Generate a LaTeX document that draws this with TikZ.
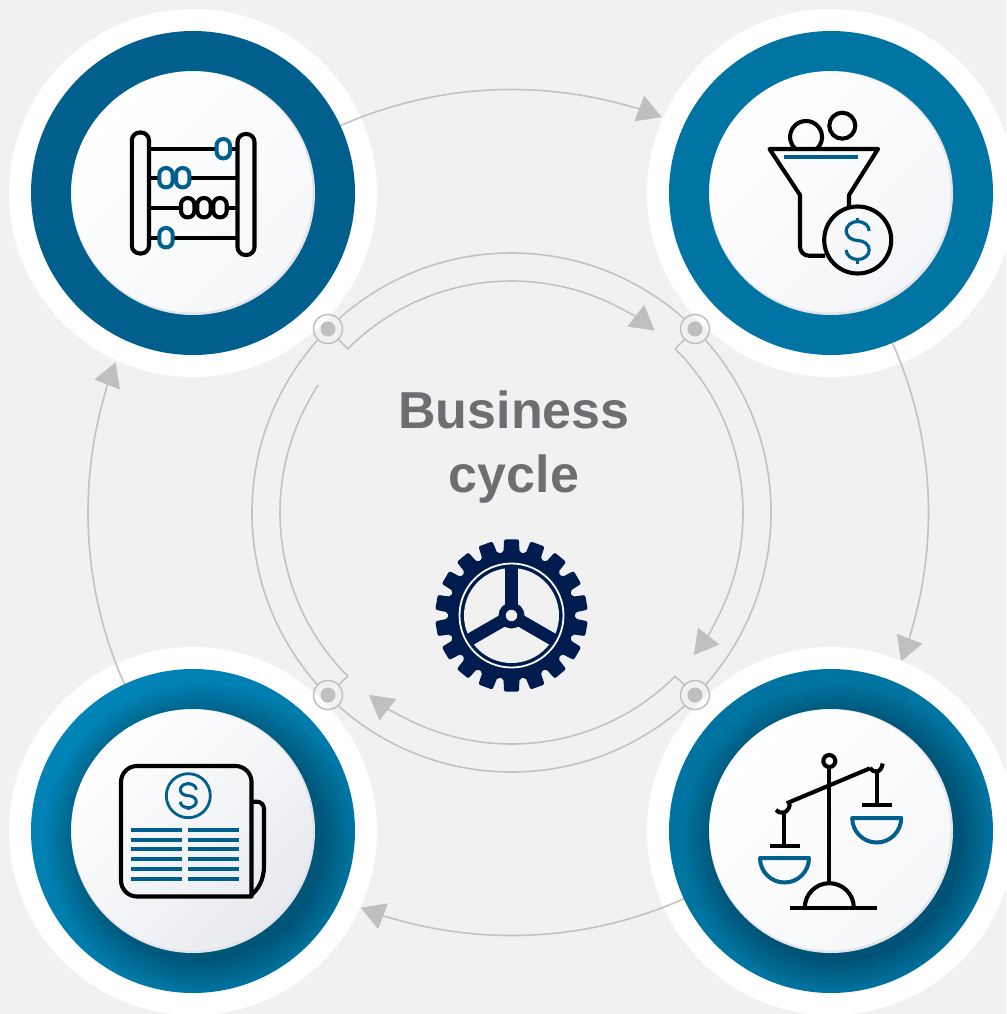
\documentclass[tikz,border=0pt]{standalone}
\usepackage{fontspec}
\setmainfont{Liberation Sans}
\usetikzlibrary{arrows.meta}
\pgfdeclarelayer{behind}
\pgfsetlayers{behind,main}
\definecolor{bgc}{HTML}{F1F1F1}
\definecolor{linec}{HTML}{C2C2C2}
\definecolor{tipc}{HTML}{BEBFC1}
\definecolor{iconblue}{HTML}{005F8C}
\definecolor{navy}{HTML}{001B4D}
\definecolor{ringA}{HTML}{005F8C}
\definecolor{ringB}{HTML}{0074A2}
\definecolor{ringC}{HTML}{0074A0}
\definecolor{ringD}{HTML}{0084B8}
\definecolor{greyt}{HTML}{6D6E71}
\definecolor{rimc}{HTML}{E2E4E9}
\definecolor{paper}{HTML}{F8F9FA}
\definecolor{diskA}{HTML}{F6F7F9}
\definecolor{diskB}{HTML}{F4F5F8}
\definecolor{diskC}{HTML}{E8EAEF}
\tikzset{
  conn/.style={draw=linec,line width=1.6pt},
  tipconn/.style={conn,-{Triangle[length=24pt,width=27pt,color=tipc]}},
  smallnode/.style={circle,inner sep=0pt,minimum size=29pt,fill=bgc},
  smallring/.style={circle,inner sep=0pt,minimum size=29pt,draw=linec,line width=1.6pt},
  smalldot/.style={circle,inner sep=0pt,minimum size=15pt,fill=tipc},
  halo/.style={circle,inner sep=0pt,minimum size=368pt,fill=white},
  ringnode/.style={circle,inner sep=0pt,minimum size=324pt},
  rimnode/.style={circle,inner sep=0pt,minimum size=244pt,fill=rimc},
  disknode/.style={circle,inner sep=0pt,minimum size=241pt,left color=#1,right color=white,shading angle=-135},
  ink/.style={draw=black,line width=4.1pt,line join=round},
  inkb/.style={draw=iconblue,line width=4pt,line join=round},
  rule/.style={draw=iconblue,line width=4pt},
  beadk/.style={ink,fill=paper,rounded corners=6.5pt},
  beadb/.style={inkb,fill=paper,rounded corners=6.5pt},
}
\newcommand\dollarS[4]{%
  ({#1+#3},{#2-#4}) arc[start angle=0,end angle=-270,x radius=#3,y radius=#4]
  arc[start angle=-90,end angle=180,x radius=#3,y radius=#4]}
\newcommand\ringshadow[4]{%
  \begin{scope}
    \clip (#1,#2) circle (162);
    \foreach \r in {124,127,...,154}
      \fill[black,opacity=#3] ({#1+#4},{#2+#4}) circle (\r);
  \end{scope}}
\begin{document}
\begin{tikzpicture}[x=1pt,y=-1pt]
\useasboundingbox (0,0) rectangle (1006,1014);
\clip (0,0) rectangle (1006,1014);
\coordinate (cen) at (511.5,512.5);
% small junction nodes, background fill
\node[smallnode] (n1) at (328,329) {};
\node[smallnode] (n2) at (695,329) {};
\node[smallnode] (n3) at (695,695) {};
\node[smallnode] (n4) at (328,695) {};
\coordinate (p1) at ([shift={(-135:231.5)}]cen);
\coordinate (p2) at ([shift={(-45:231.5)}]cen);
\coordinate (p3) at ([shift={(45:231.5)}]cen);
\coordinate (p4) at ([shift={(135:231.5)}]cen);
\begin{pgfonlayer}{behind}
  \fill[bgc] (0,0) rectangle (1006,1014);
  \draw[conn] (cen) circle (259.5);
  \draw[tipconn] (n1) -- (p1) arc[start angle=-135,end angle=-65,radius=231.5] arc[start angle=-65,end angle=-51.8,radius=231.5];
  \draw[tipconn] (n2) -- (p2) arc[start angle=-45,end angle=25,radius=231.5] arc[start angle=25,end angle=38,radius=231.5];
  \draw[tipconn] (n3) -- (p3) arc[start angle=45,end angle=115,radius=231.5] arc[start angle=115,end angle=128,radius=231.5];
  \draw[conn] (n4) -- (p4) arc[start angle=135,end angle=213.4,radius=231.5];
\end{pgfonlayer}
% white halos
\node[halo] (h1) at (193,193) {};
\node[halo] (h2) at (831,193) {};
\node[halo] (h3) at (831,831) {};
\node[halo] (h4) at (193,831) {};
% outer arrows
\coordinate (s1) at ([shift={(-114:423)}]cen);
\coordinate (s2) at ([shift={(-23.9:417)}]cen);
\coordinate (s3) at ([shift={(65.7:423)}]cen);
\coordinate (s4) at ([shift={(155.8:423.5)}]cen);
\draw[tipconn] (s1) arc[start angle=-114,end angle=-76,radius=423] arc[start angle=-76,end angle=-69.2,radius=423];
\draw[tipconn] (s2) arc[start angle=-23.9,end angle=14,radius=417] arc[start angle=14,end angle=20.9,radius=417];
\draw[tipconn] (s3) arc[start angle=65.7,end angle=104,radius=423] arc[start angle=104,end angle=110.9,radius=423];
\draw[tipconn] (s4) arc[start angle=155.8,end angle=194,radius=423.5] arc[start angle=194,end angle=200.8,radius=423.5];
% junction rings and dots
\node[smallring] at (n1) {}; \node[smalldot] at (n1) {};
\node[smallring] at (n2) {}; \node[smalldot] at (n2) {};
\node[smallring] at (n3) {}; \node[smalldot] at (n3) {};
\node[smallring] at (n4) {}; \node[smalldot] at (n4) {};
% big rings
\node[ringnode,fill=ringA] (d1) at (193,193) {};
\node[ringnode,fill=ringB] (d2) at (831,193) {};
\node[ringnode,fill=ringC] (d3) at (831,831) {};
\node[ringnode,left color=ringD,right color=ringC,shading angle=45] (d4) at (193,831) {};
\ringshadow{831}{831}{0.022}{7}
\ringshadow{193}{831}{0.024}{7}
\node[rimnode] (r1) at (193,193) {};
\node[rimnode] (r2) at (831,193) {};
\node[rimnode] (r3) at (831,831) {};
\node[rimnode] (r4) at (193,831) {};
\node[disknode=diskA] (i1) at (192,192) {};
\node[disknode=diskB] (i2) at (830,192) {};
\node[disknode=diskA] (i3) at (830,830) {};
\node[disknode=diskC] (i4) at (192,830) {};
% title
\node[text=greyt,align=center,font=\fontsize{52}{64}\selectfont\bfseries] (title) at (514,447.5) {Business\\cycle};
% gear
\begin{scope}[shift={(511.5,615.5)}]
  \fill[navy,rounded corners=2pt] (-100:63.5)
    \foreach \i in {0,...,17} {
      -- ({\i*20-97.2}:63.5) -- ({\i*20-95.6}:76.5) -- ({\i*20-84.4}:76.5) -- ({\i*20-82.8}:63.5)
    } -- cycle;
  \fill[bgc] (0,0) circle (47.5);
  \draw[white,line width=1.8pt] (0,0) circle (52);
  \foreach \a in {-90,30,150} \draw[navy,line width=12.5pt] (0,0) -- (\a:48);
  \fill[navy] (0,0) circle (13);
  \fill[bgc] (0,0) circle (5.7);
\end{scope}
% abacus
\draw[ink,rounded corners=8pt,fill=paper] (131.8,132.5) rectangle (149,253.5);
\draw[ink,rounded corners=8pt,fill=paper] (237.5,134) rectangle (254.5,255);
\foreach \y in {148.7,177.7,207.7,237.7} \draw[ink] (150.5,\y) -- (236,\y);
\foreach \x/\y in {223.3/148.7,166/177.7,182.7/177.7,166/237.7}
  \draw[beadb] ({\x-6.7},{\y-9.7}) rectangle ({\x+6.7},{\y+9.7});
\foreach \x/\y in {187.7/207.7,204/207.7,220/207.7}
  \draw[beadk] ({\x-6.7},{\y-9.7}) rectangle ({\x+6.7},{\y+9.7});
% funnel
\draw[ink] (816.6,149) arc[start angle=48.6,end angle=-228.6,radius=16];
\draw[ink] (842.3,125.7) circle (13);
\draw[ink] (825,255.7) [rounded corners=9pt] -- (800,255.7) [sharp corners] -- (800,195) -- (769.5,149) -- (878,149) -- (849,195) -- (849,207);
\draw[ink] (857.7,240) circle (33.5);
\draw[rule] (784,156.7) -- (858,156.7);
\draw[inkb,line width=3.2pt] \dollarS{857.7}{240.5}{11.5}{9.5};
\draw[inkb,line width=3.2pt] (857.7,217.5) -- (857.7,222) (857.7,259) -- (857.7,263.5);
% balance
\draw[ink] (829.3,761) circle (6);
\draw[ink] (829.3,767) -- (829.3,882);
\draw[ink] (786.7,803.3) -- (870,768.3);
\draw[ink] (776,810) .. controls (779,814) and (788,815) .. (790,804);
\draw[ink] (870,768) .. controls (873,773) and (881,774) .. (882.7,763.5);
\draw[ink] (784.4,813) -- (784.4,846) (770,846) -- (800,846);
\draw[ink] (876.7,772) -- (876.7,805) (862,805) -- (891.7,805);
\draw[inkb] (760,858) -- (809,858) arc[start angle=0,end angle=180,radius=24.5] -- cycle;
\draw[inkb] (852.2,818) -- (901.2,818) arc[start angle=0,end angle=180,radius=24.5] -- cycle;
\draw[ink] (790,907.7) -- (876.7,907.7);
\draw[ink] (804.8,907.7) arc[start angle=180,end angle=360,radius=24.5];
% newspaper
\draw[ink] (251.5,896.5) [rounded corners=16pt] -- (121,896.5) -- (121,766) -- (251.5,766) [sharp corners] -- cycle;
\draw[ink] (253,801.7) [rounded corners=7pt] -- (264,801.7) [sharp corners] -- (264,866) .. controls (264,880) and (258,890) .. (250,896);
\draw[inkb,line width=2.8pt] (188.3,795.7) circle (22);
\draw[inkb,line width=3pt] \dollarS{188.3}{795.7}{8}{6};
\draw[inkb,line width=3pt] (188.3,782) -- (188.3,784) (188.3,807.5) -- (188.3,809.5);
\foreach \y in {830,840,849,859,869,879}
  \draw[rule] (131,\y) -- (182,\y) (188,\y) -- (239,\y);
\end{tikzpicture}
\end{document}
